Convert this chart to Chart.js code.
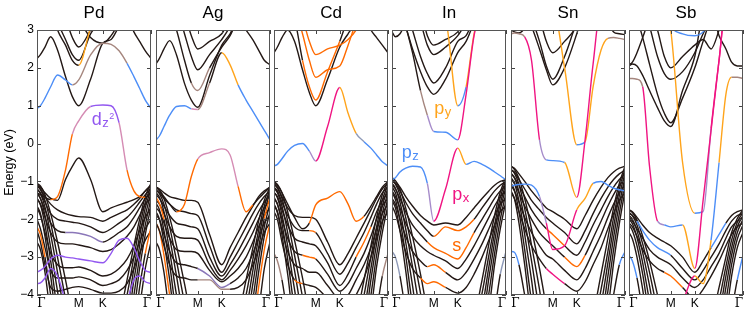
<!DOCTYPE html>
<html>
<head>
<meta charset="utf-8">
<script src="https://cdn.jsdelivr.net/npm/chart.js@4.4.1/dist/chart.umd.min.js"></script>
<style>
  html, body { margin: 0; padding: 0; background: #fff; }
  #wrap { position: relative; width: 747px; height: 312px; overflow: hidden; background: #fff; }
  #wrap canvas { position: absolute; top: 0; }
</style>
</head>
<body>
<div id="wrap"></div>
<script>
const SANS = '"Liberation Sans", Arial, sans-serif';
const SERIF = '"DejaVu Serif", "Liberation Serif", serif';

// k-path sampling (fraction of the Γ-M-K-Γ path)
const K_POS = [0, 0.03, 0.07, 0.12, 0.18, 0.25, 0.31, 0.366, 0.47, 0.577, 0.65, 0.72, 0.79, 0.85, 0.9, 0.95, 1];
const K_TICKS = [0, 0.366, 0.577, 1];
const K_LABELS = ['Γ', 'M', 'K', 'Γ'];
const E_TICKS = [-4, -3, -2, -1, 0, 1, 2, 3];
const PANEL_NAMES = ['Pd', 'Ag', 'Cd', 'In', 'Sn', 'Sb'];

// each band: [orbital character per k-point ('-' = none), energies in eV]
const pdBands = [
  ['zzzzzzwwwwwwzzzzz', [0.93,1.0,1.2,1.5,1.81,1.68,1.55,1.68,2.34,2.65,2.62,2.45,2.12,1.77,1.46,1.15,0.93]],
  ['-', [2.25,2.35,2.55,2.82,2.47,1.77,1.24,1.0,1.7,2.65,2.75,3.1,3.4,2.95,2.7,2.45,2.25]],
  ['-------yy--------', [3.6,3.6,3.6,3.6,3.0,2.6,2.2,2.07,3.05,3.6,3.6,3.6,3.6,3.6,3.6,3.6,3.6]],
  ['-', [3.6,3.6,3.6,3.6,3.2,2.75,2.35,2.2,2.9,3.3,3.6,3.6,3.6,3.6,3.6,3.6,3.6]],
  ['-', [3.6,3.6,3.6,3.6,3.6,3.3,2.8,2.55,3.0,3.6,3.6,3.6,3.6,3.6,3.6,3.6,3.6]],
  ['-', [3.6,3.6,3.6,3.6,3.6,3.6,3.6,3.3,2.8,2.65,2.85,3.2,3.6,3.6,3.6,3.6,3.6]],
  ['---sssqqdddqsss--', [-1.3,-1.35,-1.42,-1.48,-1.4,-0.7,0.25,0.6,0.98,1.02,1.0,0.55,-0.7,-1.25,-1.4,-1.42,-1.3]],
  ['-', [-1.1,-1.15,-1.3,-1.45,-1.5,-0.95,-0.6,-0.38,-0.95,-1.8,-1.7,-1.62,-1.55,-1.48,-1.4,-1.25,-1.1]],
  ['-', [-1.1,-1.2,-1.4,-1.6,-1.75,-1.85,-1.9,-1.93,-1.95,-2.05,-1.95,-1.85,-1.75,-1.6,-1.45,-1.25,-1.1]],
  ['-', [-1.2,-1.3,-1.55,-1.85,-2.0,-2.05,-2.08,-2.1,-2.2,-2.35,-2.25,-2.1,-1.95,-1.75,-1.55,-1.35,-1.2]],
  ['-----eeee--------', [-1.3,-1.45,-1.75,-2.1,-2.3,-2.35,-2.35,-2.37,-2.45,-2.6,-2.5,-2.35,-2.2,-1.95,-1.7,-1.45,-1.3]],
  ['-', [-1.45,-1.6,-1.95,-2.35,-2.6,-2.65,-2.65,-2.68,-2.75,-2.85,-2.8,-2.65,-2.45,-2.2,-1.9,-1.6,-1.45]],
  ['d', [-3.4,-3.35,-3.25,-3.05,-2.95,-3.0,-3.02,-3.05,-3.1,-3.15,-2.9,-2.55,-2.5,-2.75,-3.1,-3.35,-3.4]],
  ['d', [-3.7,-3.68,-3.55,-3.3,-3.5,-4.2,-5,-5,-5,-5,-5,-5,-4.2,-3.6,-3.5,-3.65,-3.7]],
  ['-', [-1.7,-1.9,-2.35,-2.9,-3.2,-3.28,-3.28,-3.26,-3.35,-3.5,-3.45,-3.3,-3.05,-2.7,-2.3,-1.95,-1.7]],
  ['-', [-2.0,-2.25,-2.75,-3.35,-3.55,-3.55,-3.55,-3.52,-3.6,-3.75,-3.7,-3.6,-3.35,-3.0,-2.6,-2.25,-2.0]],
  ['-', [-2.3,-2.6,-3.2,-3.8,-3.9,-3.85,-3.8,-3.78,-3.85,-3.95,-3.95,-3.9,-3.7,-3.3,-2.9,-2.55,-2.3]],
  ['-', [-1.05,-1.12,-1.35,-1.85,-2.6,-3.6,-4.5,-5,-5,-5,-5,-4.6,-3.6,-2.7,-2.0,-1.4,-1.05]],
  ['-', [-1.12,-1.22,-1.5,-2.1,-3.0,-4.1,-5,-5,-5,-5,-5,-4.9,-4.0,-3.0,-2.2,-1.55,-1.12]],
  ['-', [-1.2,-1.32,-1.68,-2.4,-3.4,-4.6,-5,-5,-5,-5,-5,-5,-4.4,-3.3,-2.45,-1.7,-1.2]],
  ['-', [-1.3,-1.45,-1.9,-2.75,-3.9,-5,-5,-5,-5,-5,-5,-5,-4.8,-3.6,-2.7,-1.9,-1.3]],
  ['-', [-1.45,-1.62,-2.15,-3.1,-4.4,-5,-5,-5,-5,-5,-5,-5,-5,-4.0,-3.0,-2.15,-1.45]],
  ['-', [-1.65,-1.85,-2.45,-3.5,-4.8,-5,-5,-5,-5,-5,-5,-5,-5,-4.4,-3.3,-2.4,-1.65]],
  ['ss-------------ss', [-2.2,-2.4,-3.0,-4.0,-5,-5,-5,-5,-5,-5,-5,-5,-5,-4.9,-3.8,-2.9,-2.2]],
  ['-', [-2.6,-2.8,-3.4,-4.5,-5,-5,-5,-5,-5,-5,-5,-5,-5,-5,-4.3,-3.3,-2.6]]
];

const agBands = [
  ['zzzzzzqw-yyzzzzzz', [0.1,0.2,0.45,0.75,0.98,1.0,0.92,0.9,1.6,2.4,2.08,1.55,1.15,0.85,0.6,0.35,0.1]],
  ['-', [2.1,2.25,2.5,2.72,2.34,1.59,1.15,0.96,1.8,2.6,2.9,3.3,3.0,2.74,2.47,2.2,2.08]],
  ['------ww---------', [3.6,3.6,3.6,3.5,3.0,2.2,1.6,1.4,2.0,2.55,2.85,3.3,3.6,3.6,3.6,3.6,3.6]],
  ['-', [3.6,3.6,3.6,3.6,3.6,2.9,2.3,1.95,2.35,2.75,3.1,3.6,3.6,3.6,3.6,3.6,3.6]],
  ['-', [3.6,3.6,3.6,3.6,3.6,3.4,2.85,2.5,2.7,2.9,3.3,3.6,3.6,3.6,3.6,3.6,3.6]],
  ['----sssqqqqss----', [-1.15,-1.25,-1.4,-1.6,-1.8,-1.6,-0.87,-0.41,-0.24,-0.14,-0.3,-1.13,-1.8,-1.62,-1.45,-1.3,-1.15]],
  ['-', [-1.15,-1.2,-1.3,-1.4,-1.45,-1.5,-1.5,-1.55,-2.4,-3.2,-2.75,-2.35,-1.95,-1.65,-1.4,-1.25,-1.15]],
  ['-', [-1.25,-1.3,-1.45,-1.6,-1.75,-1.8,-1.85,-1.9,-2.7,-3.4,-3.0,-2.6,-2.2,-1.85,-1.6,-1.4,-1.25]],
  ['-', [-1.35,-1.45,-1.65,-1.9,-2.1,-2.15,-2.2,-2.25,-3.0,-3.5,-3.2,-2.85,-2.45,-2.1,-1.8,-1.55,-1.35]],
  ['-', [-1.5,-1.6,-1.85,-2.2,-2.45,-2.5,-2.5,-2.55,-3.2,-3.6,-3.35,-3.05,-2.7,-2.35,-2.0,-1.7,-1.5]],
  ['-', [-1.7,-1.8,-2.1,-2.5,-2.8,-2.85,-2.85,-2.9,-3.35,-3.65,-3.5,-3.3,-3.0,-2.6,-2.2,-1.9,-1.7]],
  ['-------eee-------', [-1.9,-2.0,-2.4,-2.85,-3.15,-3.2,-3.25,-3.3,-3.5,-3.8,-3.7,-3.55,-3.3,-2.9,-2.5,-2.1,-1.9]],
  ['-------www-------', [-2.1,-2.3,-2.7,-3.2,-3.5,-3.55,-3.6,-3.6,-3.6,-3.85,-3.85,-3.8,-3.6,-3.2,-2.8,-2.35,-2.1]],
  ['-', [-1.15,-1.22,-1.45,-1.95,-2.7,-3.7,-4.6,-5,-5,-5,-5,-4.6,-3.6,-2.75,-2.05,-1.5,-1.15]],
  ['-', [-1.22,-1.32,-1.6,-2.2,-3.1,-4.2,-5,-5,-5,-5,-5,-4.9,-4.0,-3.05,-2.3,-1.65,-1.22]],
  ['-', [-1.3,-1.42,-1.8,-2.5,-3.5,-4.7,-5,-5,-5,-5,-5,-5,-4.4,-3.35,-2.5,-1.8,-1.3]],
  ['ss-------------ss', [-1.42,-1.58,-2.0,-2.85,-4.0,-5,-5,-5,-5,-5,-5,-5,-4.8,-3.7,-2.75,-1.98,-1.42]],
  ['-', [-1.58,-1.75,-2.3,-3.2,-4.5,-5,-5,-5,-5,-5,-5,-5,-5,-4.1,-3.05,-2.2,-1.58]],
  ['-', [-1.8,-2.0,-2.6,-3.6,-4.9,-5,-5,-5,-5,-5,-5,-5,-5,-4.5,-3.4,-2.45,-1.8]],
  ['s', [-2.1,-2.3,-2.95,-4.0,-5,-5,-5,-5,-5,-5,-5,-5,-5,-4.9,-3.8,-2.8,-2.1]],
  ['-', [-2.6,-2.8,-3.4,-4.5,-5,-5,-5,-5,-5,-5,-5,-5,-5,-5,-4.4,-3.3,-2.6]]
];

const cdBands = [
  ['zzzzzzvxxyyuzzzzz', [-0.59,-0.55,-0.4,-0.2,-0.05,0.0,-0.2,-0.46,0.45,1.48,0.8,0.27,0.05,-0.12,-0.3,-0.48,-0.59]],
  ['-', [2.4,2.55,2.8,3.0,2.7,1.95,1.35,1.0,1.7,2.55,2.9,3.2,3.4,3.0,2.8,2.6,2.4]],
  ['-----ssss--------', [3.6,3.6,3.6,3.6,3.3,2.2,1.5,1.15,1.9,2.7,3.3,3.6,3.6,3.6,3.6,3.6,3.6]],
  ['s', [3.6,3.6,3.6,3.6,3.6,2.9,2.2,1.75,1.95,2.05,2.6,3.2,3.6,3.6,3.6,3.6,3.6]],
  ['s', [3.6,3.6,3.6,3.6,3.6,3.3,2.7,2.35,2.5,2.6,2.75,3.0,3.4,3.6,3.6,3.6,3.6]],
  ['------ssssss-----', [-1.0,-1.1,-1.3,-1.6,-1.95,-2.25,-2.1,-1.62,-1.44,-1.27,-1.6,-2.05,-1.92,-1.65,-1.4,-1.15,-1.0]],
  ['-', [-1.05,-1.15,-1.4,-1.7,-1.9,-1.95,-1.95,-2.0,-2.6,-3.2,-2.9,-2.5,-2.1,-1.75,-1.45,-1.2,-1.05]],
  ['------s----------', [-1.15,-1.25,-1.55,-1.9,-2.2,-2.3,-2.3,-2.35,-2.9,-3.45,-3.15,-2.75,-2.35,-1.95,-1.6,-1.3,-1.15]],
  ['-----------ss----', [-1.3,-1.4,-1.75,-2.15,-2.5,-2.6,-2.65,-2.7,-3.15,-3.75,-3.45,-3.0,-2.6,-2.2,-1.8,-1.5,-1.3]],
  ['-----ss----------', [-1.45,-1.6,-2.0,-2.5,-2.85,-2.95,-3.0,-3.05,-3.45,-3.9,-3.7,-3.3,-2.9,-2.45,-2.0,-1.65,-1.45]],
  ['-', [-1.6,-1.8,-2.3,-2.85,-3.2,-3.3,-3.4,-3.4,-3.75,-4.1,-4.0,-3.6,-3.2,-2.75,-2.25,-1.85,-1.6]],
  ['----s------------', [-1.8,-2.0,-2.6,-3.2,-3.6,-3.7,-3.75,-3.8,-4.1,-4.5,-4.4,-4.0,-3.55,-3.0,-2.5,-2.05,-1.8]],
  ['-', [-1.0,-1.08,-1.3,-1.8,-2.55,-3.55,-4.5,-5,-5,-5,-5,-4.6,-3.6,-2.7,-1.95,-1.35,-1.0]],
  ['-', [-1.08,-1.18,-1.45,-2.05,-2.95,-4.05,-5,-5,-5,-5,-5,-4.9,-4.0,-3.0,-2.2,-1.5,-1.08]],
  ['-', [-1.17,-1.3,-1.65,-2.35,-3.35,-4.55,-5,-5,-5,-5,-5,-5,-4.4,-3.3,-2.4,-1.65,-1.17]],
  ['-', [-1.28,-1.43,-1.88,-2.7,-3.85,-5,-5,-5,-5,-5,-5,-5,-4.8,-3.6,-2.65,-1.85,-1.28]],
  ['-', [-1.42,-1.6,-2.12,-3.05,-4.35,-5,-5,-5,-5,-5,-5,-5,-5,-4.0,-2.95,-2.1,-1.42]],
  ['-', [-1.62,-1.82,-2.42,-3.45,-4.8,-5,-5,-5,-5,-5,-5,-5,-5,-4.4,-3.25,-2.35,-1.62]],
  ['ww-------------ww', [-2.9,-3.1,-3.6,-4.5,-5,-5,-5,-5,-5,-5,-5,-5,-5,-5,-4.4,-3.5,-2.9]]
];

const inBands = [
  ['zzzzzzvxxyzzzzzzz', [-0.96,-0.9,-0.75,-0.65,-0.6,-0.62,-1.05,-2.05,-1.2,-0.12,-0.55,-0.47,-0.55,-0.65,-0.75,-0.85,-0.96]],
  ['-----wvzzxxxxxxxx', [3.6,3.6,3.6,3.1,2.4,1.4,0.75,0.32,0.3,0.1,1.3,2.85,3.6,3.6,3.6,3.6,3.6]],
  ['yyyyyyyyyzyyyyyyy', [3.6,3.6,3.6,3.6,3.6,3.6,3.6,3.6,3.3,1.0,1.5,2.9,3.6,3.6,3.6,3.6,3.6]],
  ['-', [3.6,3.6,3.6,3.1,2.5,1.9,1.5,1.3,1.7,2.4,2.7,3.2,3.6,3.6,3.6,3.6,3.6]],
  ['-', [3.6,3.6,3.6,3.6,3.0,2.3,1.85,1.6,2.0,2.7,2.85,3.3,3.6,3.6,3.6,3.6,3.6]],
  ['-', [3.6,3.6,3.6,3.6,3.6,3.2,2.6,2.35,2.55,2.85,3.2,3.6,3.6,3.6,3.6,3.6,3.6]],
  ['-', [3.6,3.6,3.6,3.6,3.6,3.5,2.85,2.6,2.75,2.95,3.3,3.6,3.6,3.6,3.6,3.6,3.6]],
  ['-', [2.95,2.82,2.9,3.2,3.6,3.6,3.6,3.6,3.6,3.6,3.6,3.6,3.6,3.6,3.6,3.6,3.6]],
  ['-', [-0.95,-1.0,-1.15,-1.4,-1.65,-1.9,-2.05,-2.15,-2.1,-2.15,-1.95,-1.7,-1.45,-1.25,-1.1,-1.0,-0.95]],
  ['-------ssss------', [-1.0,-1.05,-1.25,-1.55,-1.85,-2.1,-2.3,-2.45,-2.2,-2.3,-2.2,-2.0,-1.7,-1.45,-1.25,-1.1,-1.0]],
  ['------sssss------', [-1.1,-1.2,-1.45,-1.8,-2.15,-2.4,-2.6,-2.75,-2.9,-3.05,-2.75,-2.35,-2.0,-1.7,-1.45,-1.25,-1.1]],
  ['-', [-1.25,-1.4,-1.7,-2.1,-2.45,-2.7,-2.85,-2.95,-3.1,-3.3,-3.05,-2.7,-2.3,-1.95,-1.65,-1.4,-1.25]],
  ['------ss---------', [-1.45,-1.6,-2.0,-2.45,-2.85,-3.1,-3.25,-3.2,-3.4,-3.6,-3.4,-3.05,-2.65,-2.25,-1.9,-1.6,-1.45]],
  ['-----sss---------', [-1.65,-1.85,-2.3,-2.85,-3.3,-3.55,-3.7,-3.65,-3.8,-3.95,-3.8,-3.45,-3.0,-2.55,-2.15,-1.8,-1.65]],
  ['-', [-0.9,-0.98,-1.2,-1.7,-2.45,-3.45,-4.4,-5,-5,-5,-5,-4.6,-3.6,-2.65,-1.9,-1.28,-0.9]],
  ['-', [-0.97,-1.07,-1.35,-1.95,-2.85,-3.95,-5,-5,-5,-5,-5,-4.9,-3.95,-2.95,-2.15,-1.42,-0.97]],
  ['-', [-1.05,-1.18,-1.55,-2.25,-3.25,-4.45,-5,-5,-5,-5,-5,-5,-4.35,-3.25,-2.35,-1.58,-1.05]],
  ['-', [-1.15,-1.3,-1.78,-2.6,-3.75,-5,-5,-5,-5,-5,-5,-5,-4.75,-3.55,-2.6,-1.75,-1.15]],
  ['-', [-1.3,-1.48,-2.02,-2.95,-4.25,-5,-5,-5,-5,-5,-5,-5,-5,-3.95,-2.9,-2.0,-1.3]],
  ['-', [-1.5,-1.7,-2.3,-3.35,-4.7,-5,-5,-5,-5,-5,-5,-5,-5,-4.35,-3.2,-2.25,-1.5]],
  ['uu-------------uu', [-2.85,-3.0,-3.5,-4.4,-5,-5,-5,-5,-5,-5,-5,-5,-5,-5,-4.4,-3.45,-2.85]]
];

const snBands = [
  ['wwwxxvzzyxxxxxxxx', [2.9,2.92,2.9,2.82,2.2,0.1,-0.43,-0.45,-0.5,-1.42,0.1,2.1,3.6,3.6,3.6,3.6,3.6]],
  ['zzzzzvxxxyyzzzzzz', [-1.13,-1.1,-1.08,-1.07,-1.1,-1.4,-2.1,-2.8,-2.7,-1.75,-1.45,-1.05,-1.0,-1.1,-1.18,-1.22,-1.25]],
  ['yyyyyyyyyzyyywwww', [3.6,3.6,3.6,3.6,3.6,3.6,3.6,3.6,2.0,-0.03,0.05,1.5,2.47,2.78,2.8,2.78,2.75]],
  ['-', [3.6,3.6,3.6,3.5,3.1,2.5,1.95,1.55,2.0,2.9,3.6,3.6,3.6,3.6,3.6,3.6,3.6]],
  ['-', [3.6,3.6,3.6,3.6,3.3,2.7,2.05,1.7,2.3,3.2,3.6,3.6,3.6,3.6,3.6,3.6,3.6]],
  ['-', [3.0,2.95,2.92,3.05,3.4,3.6,3.6,3.6,3.6,3.6,3.6,3.6,3.6,3.2,2.95,2.9,2.88]],
  ['-', [3.6,3.6,3.6,3.6,3.6,3.3,2.7,2.4,2.7,3.1,3.6,3.6,3.6,3.6,3.6,3.6,3.6]],
  ['-', [-0.6,-0.65,-0.8,-1.0,-1.25,-1.5,-1.7,-1.8,-2.0,-2.25,-1.9,-1.5,-1.15,-0.9,-0.75,-0.65,-0.6]],
  ['-', [-0.7,-0.75,-0.95,-1.2,-1.5,-1.75,-1.95,-2.1,-2.35,-2.65,-2.3,-1.85,-1.45,-1.15,-0.95,-0.8,-0.7]],
  ['------ss---------', [-0.8,-0.9,-1.1,-1.4,-1.75,-2.05,-2.25,-2.4,-2.7,-2.95,-2.6,-2.15,-1.75,-1.4,-1.15,-0.95,-0.8]],
  ['--------ss-------', [-0.95,-1.05,-1.3,-1.65,-2.0,-2.35,-2.55,-2.7,-3.0,-3.25,-2.95,-2.5,-2.05,-1.65,-1.35,-1.1,-0.95]],
  ['-', [-1.1,-1.25,-1.55,-1.95,-2.35,-2.7,-2.95,-3.05,-3.35,-3.6,-3.3,-2.85,-2.4,-1.95,-1.6,-1.3,-1.1]],
  ['------xx---------', [-1.3,-1.45,-1.8,-2.25,-2.7,-3.05,-3.3,-3.45,-3.7,-3.9,-3.65,-3.2,-2.75,-2.25,-1.85,-1.5,-1.3]],
  ['-', [-0.6,-0.68,-0.92,-1.45,-2.25,-3.3,-4.3,-5,-5,-5,-5,-4.5,-3.45,-2.5,-1.7,-1.05,-0.6]],
  ['-', [-0.68,-0.78,-1.08,-1.72,-2.68,-3.85,-5,-5,-5,-5,-5,-4.85,-3.85,-2.85,-1.95,-1.2,-0.68]],
  ['-', [-0.78,-0.9,-1.28,-2.03,-3.1,-4.4,-5,-5,-5,-5,-5,-5,-4.25,-3.15,-2.2,-1.38,-0.78]],
  ['-', [-0.9,-1.05,-1.52,-2.4,-3.6,-5,-5,-5,-5,-5,-5,-5,-4.7,-3.5,-2.48,-1.6,-0.9]],
  ['-', [-1.05,-1.23,-1.8,-2.8,-4.15,-5,-5,-5,-5,-5,-5,-5,-5,-3.9,-2.8,-1.85,-1.05]],
  ['-', [-1.25,-1.45,-2.1,-3.2,-4.6,-5,-5,-5,-5,-5,-5,-5,-5,-4.35,-3.15,-2.12,-1.25]],
  ['zz-------------zz', [-2.85,-2.87,-3.2,-4.0,-5,-5,-5,-5,-5,-5,-5,-5,-5,-5,-4.0,-3.2,-2.85]]
];

const sbBands = [
  ['wwwxxvzzyxxxxxxxx', [1.72,1.72,1.7,1.5,-0.6,-2.05,-2.15,-2.2,-2.15,-3.3,-1.5,0.35,2.2,3.6,3.6,3.6,3.6]],
  ['yyyyyyyyyzvxxxxxx', [3.6,3.6,3.6,3.6,3.6,3.6,3.6,3.0,-0.5,-1.84,-1.8,0.4,2.2,3.6,3.6,3.6,3.6]],
  ['--------xyyzyywww', [-5,-5,-5,-5,-5,-5,-5,-5,-4.2,-3.5,-3.7,-2.55,-0.5,1.3,1.75,1.75,1.72]],
  ['-', [2.05,2.1,2.05,1.8,1.4,0.95,0.6,0.45,1.4,2.3,3.4,3.5,2.85,2.5,2.15,2.05,2.05]],
  ['-', [3.6,3.6,3.3,2.8,2.1,1.3,0.8,0.55,1.2,2.0,2.7,3.3,3.6,3.6,3.6,3.6,3.6]],
  ['-', [3.6,3.6,3.6,3.6,3.1,2.3,1.85,1.7,1.9,2.4,2.9,3.3,3.6,3.6,3.6,3.6,3.6]],
  ['-', [3.6,3.6,3.6,3.6,3.6,3.0,2.3,2.0,2.3,2.6,2.75,2.5,3.0,3.6,3.6,3.6,3.6]],
  ['z', [3.6,3.6,3.6,3.6,3.6,3.6,3.6,3.1,2.9,2.85,2.95,3.3,3.6,3.6,3.6,3.6,3.6]],
  ['-', [2.08,2.15,2.4,2.8,3.3,3.6,3.6,3.6,3.6,3.6,3.6,3.6,3.6,3.6,3.6,3.6,3.6]],
  ['-----------zz----', [-1.75,-1.8,-1.95,-2.15,-2.35,-2.5,-2.6,-2.7,-3.0,-3.4,-3.1,-2.75,-2.4,-2.1,-1.9,-1.8,-1.75]],
  ['--zzzzz----------', [-1.85,-1.9,-2.05,-2.3,-2.55,-2.75,-2.85,-2.95,-3.3,-3.6,-3.35,-3.0,-2.65,-2.3,-2.05,-1.9,-1.85]],
  ['-', [-1.95,-2.05,-2.25,-2.5,-2.8,-3.0,-3.1,-3.2,-3.55,-3.8,-3.6,-3.25,-2.9,-2.5,-2.2,-2.05,-1.95]],
  ['------ss---------', [-2.1,-2.2,-2.45,-2.8,-3.1,-3.3,-3.4,-3.5,-3.8,-4.1,-3.85,-3.5,-3.1,-2.7,-2.4,-2.2,-2.1]],
  ['-', [-1.75,-1.82,-2.02,-2.45,-3.1,-4.0,-4.8,-5,-5,-5,-5,-4.7,-3.8,-3.0,-2.35,-1.98,-1.75]],
  ['-', [-1.82,-1.9,-2.15,-2.65,-3.4,-4.4,-5,-5,-5,-5,-5,-5,-4.15,-3.25,-2.55,-2.08,-1.82]],
  ['-', [-1.9,-2.0,-2.3,-2.88,-3.75,-4.85,-5,-5,-5,-5,-5,-5,-4.5,-3.5,-2.75,-2.2,-1.9]],
  ['-', [-2.0,-2.12,-2.48,-3.15,-4.15,-5,-5,-5,-5,-5,-5,-5,-4.85,-3.8,-2.95,-2.35,-2.0]],
  ['-', [-2.15,-2.3,-2.7,-3.45,-4.55,-5,-5,-5,-5,-5,-5,-5,-5,-4.15,-3.2,-2.52,-2.15]],
  ['-', [-2.35,-2.52,-3.0,-3.85,-5,-5,-5,-5,-5,-5,-5,-5,-5,-4.55,-3.5,-2.75,-2.35]],
  ['zz-------------zz', [-2.95,-3.1,-3.55,-4.4,-5,-5,-5,-5,-5,-5,-5,-5,-5,-5,-4.4,-3.6,-2.95]]
];

// orbital labels: text, subscript, superscript, position (k fraction, eV)
const pdLabels = [{ main: 'd', sub: 'z', sup: '2', k: 0.48, e: 0.49, orb: 'd' }];
const inLabels = [
  { main: 'p', sub: 'y', k: 0.37, e: 0.77, orb: 'y' },
  { main: 'p', sub: 'z', k: 0.086, e: -0.39, orb: 'z' },
  { main: 'p', sub: 'x', k: 0.528, e: -1.49, orb: 'x' },
  { main: 's', k: 0.528, e: -2.84, orb: 's' }
];

const ORB_COLOR = {
  '-': '#231815',
  s: '#ff6a00',
  d: '#9257f0',
  q: '#d58cb4',
  z: '#4d8ef7',
  x: '#f01482',
  y: '#ffa41b',
  w: '#a5867e',
  v: '#a68cca',
  u: '#8e9ab8',
  e: '#8a76b8'
};

const PANEL_LEFT = [37, 156, 274, 392, 511, 629];
const PANEL_W = 114;
const SIDE_PAD = 6;

const allBands = [pdBands, agBands, cdBands, inBands, snBands, sbBands];
const allLabels = [pdLabels, [], [], inLabels, [], []];

function orbAt(orb, i) { return orb.length === 1 ? orb : orb[i]; }

function makeDecor(name, labels) {
  return {
    id: 'decor',
    afterDatasetsDraw(chart) {
      const { ctx, chartArea: a, scales: { x, y } } = chart;
      ctx.save();
      ctx.strokeStyle = '#444';
      ctx.lineWidth = 1;
      ctx.beginPath();
      E_TICKS.forEach(e => {
        const py = Math.round(y.getPixelForValue(e)) + 0.5;
        ctx.moveTo(a.left, py); ctx.lineTo(a.left + 4, py);
        ctx.moveTo(a.right, py); ctx.lineTo(a.right - 4, py);
      });
      K_TICKS.forEach(k => {
        const px = Math.round(x.getPixelForValue(k)) + 0.5;
        ctx.moveTo(px, a.top); ctx.lineTo(px, a.top + 4);
        ctx.moveTo(px, a.bottom); ctx.lineTo(px, a.bottom - 4);
      });
      ctx.stroke();
      ctx.strokeStyle = '#555';
      ctx.strokeRect(Math.round(a.left) + 0.5, Math.round(a.top) + 0.5, Math.round(a.width) - 1, Math.round(a.height) - 1);

      // panel title
      ctx.fillStyle = '#000';
      ctx.font = '17px ' + SANS;
      ctx.textAlign = 'center';
      ctx.textBaseline = 'middle';
      ctx.fillText(name, (a.left + a.right) / 2, 13);

      // k-point labels (the Γ at the ends sit just inside the frame)
      ctx.textBaseline = 'top';
      K_TICKS.forEach((k, n) => {
        let px = x.getPixelForValue(k);
        if (n === 0) px += 4.5;
        if (n === K_TICKS.length - 1) px -= 4;
        ctx.font = '12px ' + (K_LABELS[n] === 'Γ' ? SERIF : SANS);
        ctx.fillText(K_LABELS[n], px, a.bottom + 3);
      });

      ctx.textAlign = 'left';
      ctx.textBaseline = 'alphabetic';
      labels.forEach(l => {
        let px = x.getPixelForValue(l.k);
        const py = y.getPixelForValue(l.e);
        ctx.fillStyle = ORB_COLOR[l.orb];
        ctx.font = '18px ' + SANS;
        ctx.fillText(l.main, px, py);
        px += ctx.measureText(l.main).width + 0.5;
        if (l.sub) {
          ctx.font = '13px ' + SANS;
          ctx.fillText(l.sub, px, py + 2);
          px += ctx.measureText(l.sub).width;
        }
        if (l.sup) {
          ctx.font = '9px ' + SANS;
          ctx.fillText(l.sup, px + 0.5, py - 6);
        }
      });
      ctx.restore();
    }
  };
}

const wrap = document.getElementById('wrap');

PANEL_NAMES.forEach((name, i) => {
  const first = i === 0;
  const canvas = document.createElement('canvas');
  const left = first ? 0 : PANEL_LEFT[i] - SIDE_PAD;
  const width = first ? PANEL_LEFT[0] + PANEL_W + SIDE_PAD : PANEL_W + 2 * SIDE_PAD;
  canvas.width = width;
  canvas.height = 312;
  canvas.style.left = left + 'px';
  canvas.style.width = width + 'px';
  canvas.style.height = '312px';
  wrap.appendChild(canvas);

  const datasets = allBands[i].map(([orb, e], j) => {
    if (e.length !== K_POS.length || (orb.length !== 1 && orb.length !== K_POS.length)) {
      throw new Error(name + ' band ' + j + ': ' + e.length + ' values, ' + orb.length + ' orbitals');
    }
    return {
      data: e.map((v, n) => ({ x: K_POS[n], y: v })),
      borderColor: ORB_COLOR[orbAt(orb, 0)],
      borderWidth: 1.4,
      pointRadius: 0,
      fill: false,
      cubicInterpolationMode: 'monotone',
      order: orb === '-' ? 1 : 0,
      segment: { borderColor: c => ORB_COLOR[orbAt(orb, c.p0DataIndex)] }
    };
  });

  const yScale = {
    type: 'linear',
    min: -4,
    max: 3,
    display: first,
    grid: { display: false, drawTicks: false },
    border: { display: false },
    afterBuildTicks: s => { s.ticks = E_TICKS.map(v => ({ value: v })); },
    ticks: {
      padding: 3,
      color: '#000',
      font: { family: SANS, size: 12 },
      callback: v => (v < 0 ? '\u2212' + Math.abs(v) : String(v))
    },
    title: {
      display: true,
      text: 'Energy (eV)',
      color: '#000',
      font: { family: SANS, size: 12.5 },
      padding: { top: 2.5, bottom: 0 }
    }
  };
  if (first) yScale.afterFit = s => { s.width = PANEL_LEFT[0]; };

  new Chart(canvas.getContext('2d'), {
    type: 'line',
    data: { datasets },
    options: {
      responsive: false,
      animation: false,
      events: [],
      layout: { padding: { left: first ? 0 : SIDE_PAD, right: SIDE_PAD, top: 30, bottom: 0 } },
      plugins: { legend: { display: false }, tooltip: { enabled: false }, title: { display: false } },
      scales: {
        x: {
          type: 'linear',
          min: 0,
          max: 1,
          grid: { display: false, drawTicks: false },
          border: { display: false },
          afterBuildTicks: s => { s.ticks = K_TICKS.map(v => ({ value: v })); },
          afterFit: s => { s.height = 17; },
          ticks: { display: false }
        },
        y: yScale
      }
    },
    plugins: [makeDecor(name, allLabels[i])]
  });
});
</script>
</body>
</html>
